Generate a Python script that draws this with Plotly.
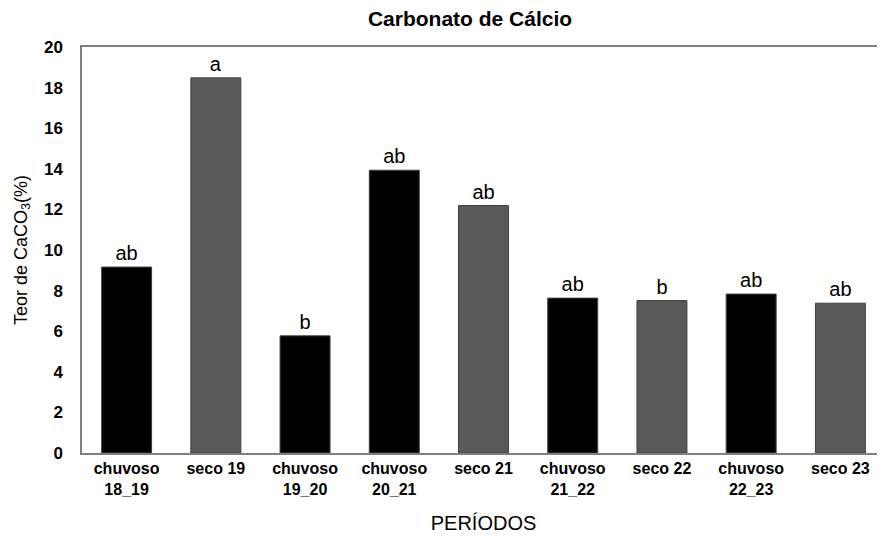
import plotly.graph_objects as go

categories = ["chuvoso<br>18_19", "seco 19", "chuvoso<br>19_20", "chuvoso<br>20_21",
              "seco 21", "chuvoso<br>21_22", "seco 22", "chuvoso<br>22_23", "seco 23"]
values = [9.16, 18.48, 5.77, 13.93, 12.19, 7.63, 7.51, 7.83, 7.38]
letters = ["ab", "a", "b", "ab", "ab", "ab", "b", "ab", "ab"]
seasons = ["chuvoso", "seco", "chuvoso", "chuvoso", "seco", "chuvoso", "seco", "chuvoso", "seco"]

color_map = {"chuvoso": "#000000", "seco": "#595959"}
bar_colors = [color_map[s] for s in seasons]

FONT = "Liberation Sans, Arial, sans-serif"

# page body has an 8px default margin; figure sized to fit the 885x539 window
W, H = 877, 531

fig = go.Figure()
fig.add_trace(go.Bar(
    x=categories,
    y=values,
    text=letters,
    textposition="outside",
    textfont=dict(family=FONT, size=20, color="#000000"),
    cliponaxis=False,
    marker=dict(color=bar_colors, line=dict(color="#404040", width=1)),
    showlegend=False,
))

fig.update_layout(
    width=W,
    height=H,
    margin=dict(l=74, r=0, t=39, b=86, autoexpand=False),
    paper_bgcolor="white",
    plot_bgcolor="white",
    bargap=0.44,
    title=dict(
        text="<b>Carbonato de Cálcio</b>",
        font=dict(family=FONT, size=21, color="#000000"),
        xref="container", x=462 / W, xanchor="center",
        yref="container", y=1 - 3.5 / H, yanchor="top",
        automargin=False,
    ),
    font=dict(family=FONT, color="#000000"),
)

fig.update_xaxes(
    automargin=False,
    showline=True, linecolor="#808080", linewidth=1.5, mirror=True,
    showgrid=False, ticks="",
    tickfont=dict(family=FONT, size=16, color="#000000", weight="bold"),
    title=dict(text="PERÍODOS", font=dict(family=FONT, size=20, color="#000000"), standoff=19),
)
fig.update_yaxes(
    automargin=False,
    range=[0, 20], dtick=2, tick0=0,
    showline=True, linecolor="#808080", linewidth=1.5,
    showgrid=False, zeroline=False, ticks="",
    ticklabelstandoff=14,
    tickfont=dict(family=FONT, size=17, color="#000000", weight="bold"),
    title=dict(text="Teor de CaCO<sub>3</sub>(%)", font=dict(family=FONT, size=18, color="#000000"), standoff=12),
)

fig.write_html("out.html")
